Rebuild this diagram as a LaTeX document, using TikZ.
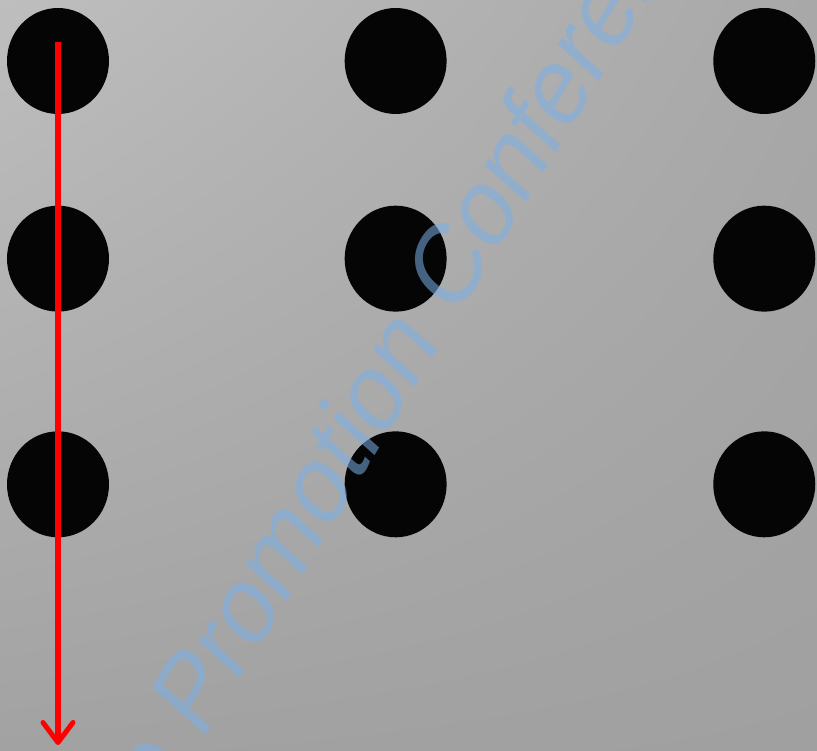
\documentclass[tikz,border=0pt]{standalone}
\usepackage{fontspec}
\newfontfamily\markfont[FakeSlant=0.19]{Liberation Sans}
\usetikzlibrary{positioning,shapes.geometric,arrows.meta,shadings}
\definecolor{bgtl}{RGB}{190,190,190}
\definecolor{bgtr}{RGB}{168,168,168}
\definecolor{bgbl}{RGB}{162,162,162}
\definecolor{bgbr}{RGB}{160,160,160}
\definecolor{markblue}{RGB}{122,176,232}
\tikzset{
  dot/.style={ellipse, fill=black!98, minimum width=2.04cm, minimum height=2.12cm, inner sep=0pt},
  sweep/.style={red, line width=2.85pt, -{Straight Barb[length=0.4cm,width=0.6cm,round]}},
  watermark/.style={text=markblue, text opacity=0.55, font=\markfont\fontsize{58}{58}\selectfont, inner sep=0pt}
}

\begin{document}
\begin{tikzpicture}[x=0.02cm,y=0.02cm]
  \shade[upper left=bgtl, upper right=bgtr, lower left=bgbl, lower right=bgbr] (0,0) rectangle (817,750);
  \useasboundingbox (0,0) rectangle (817,750);
  % dot grid
  \node[dot] (a1) at (58,689) {};
  \node[dot, right=4.7cm of a1] (b1) {};
  \node[dot, right=5.32cm of b1] (c1) {};
  \node[dot, below=1.82cm of a1] (a2) {};
  \node[dot, below=1.82cm of b1] (b2) {};
  \node[dot, below=1.82cm of c1] (c2) {};
  \node[dot, below=2.38cm of a2] (a3) {};
  \node[dot, below=2.38cm of b2] (b3) {};
  \node[dot, below=2.38cm of c2] (c3) {};
  % arrow down the first column
  \coordinate (start) at (58,708);
  \coordinate (stop) at (58,5);
  \draw[sweep] (start) -- (stop);
  % watermark
  \begin{scope}
    \clip (0,0) rectangle (817,750);
    \node[watermark, rotate=59, anchor=base west] (mark) at (158,-66) {e Promotion Conference};
  \end{scope}
\end{tikzpicture}
\end{document}
